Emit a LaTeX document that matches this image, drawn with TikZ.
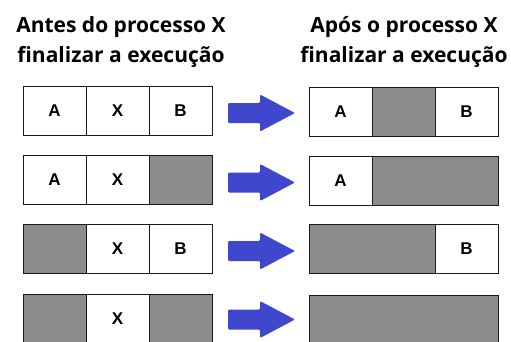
\documentclass[tikz,border=0pt]{standalone}
\usepackage{fontspec}
\setsansfont{Open Sans}
\newfontfamily\cellfont{Liberation Sans}
\usetikzlibrary{positioning}
\definecolor{memInk}{HTML}{1A1A1A}
\definecolor{memFree}{HTML}{8C8C8C}
\definecolor{memArrow}{HTML}{3F48CC}
\tikzset{
  slot/.style={
    draw=memInk,
    line width=0.9pt,
    minimum height=49pt,
    inner sep=0pt,
    outer sep=0pt,
    font=\cellfont\bfseries\fontsize{17}{17}\selectfont
  },
  used/.style={slot, fill=white, minimum width=63pt},
  hole/.style={slot, fill=memFree, minimum width=#1},
  hole/.default=63pt,
  heading/.style={
    font=\sffamily\bfseries\fontsize{21}{30}\selectfont,
    align=center,
    inner sep=0pt
  },
  moveto/.pic={
    \fill[memArrow, rounded corners=1.2pt]
      (0,-10) -- (32,-10) -- (32,-18.5) -- (67,0) -- (32,18.5) -- (32,10) -- (0,10) -- cycle;
  }
}

\begin{document}
\begin{tikzpicture}[x=1pt,y=-1pt]
  \useasboundingbox[fill=white] (0,0) rectangle (511,341);

  \node[heading] (before) at (121,42) {Antes do processo X\\finalizar a execução};
  \node[heading] (after) at (404,42) {Após o processo X\\finalizar a execução};

  % before: row 1
  \node[used] (l1a) at (54.5,111) {A};
  \node[used, right=0pt of l1a] (l1x) {X};
  \node[used, right=0pt of l1x] (l1b) {B};
  % before: row 2
  \node[used] (l2a) at (54.5,180) {A};
  \node[used, right=0pt of l2a] (l2x) {X};
  \node[hole, right=0pt of l2x] (l2h) {};
  % before: row 3
  \node[hole] (l3h) at (54.5,249) {};
  \node[used, right=0pt of l3h] (l3x) {X};
  \node[used, right=0pt of l3x] (l3b) {B};
  % before: row 4
  \node[hole] (l4h) at (54.5,319) {};
  \node[used, right=0pt of l4h] (l4x) {X};
  \node[hole, right=0pt of l4x] (l4g) {};

  % after: row 1
  \node[used] (r1a) at (340.5,112) {A};
  \node[hole, right=0pt of r1a] (r1h) {};
  \node[used, right=0pt of r1h] (r1b) {B};
  % after: row 2
  \node[used] (r2a) at (340.5,181) {A};
  \node[hole=126pt, right=0pt of r2a] (r2h) {};
  % after: row 3
  \node[hole=126pt] (r3h) at (372,249) {};
  \node[used, right=0pt of r3h] (r3b) {B};
  % after: row 4
  \node[hole=189pt] (r4h) at (404,320) {};

  % arrows between the two columns
  \foreach \y in {113,182.5,251,319.5}
    \pic at (228,\y) {moveto};
\end{tikzpicture}
\end{document}
